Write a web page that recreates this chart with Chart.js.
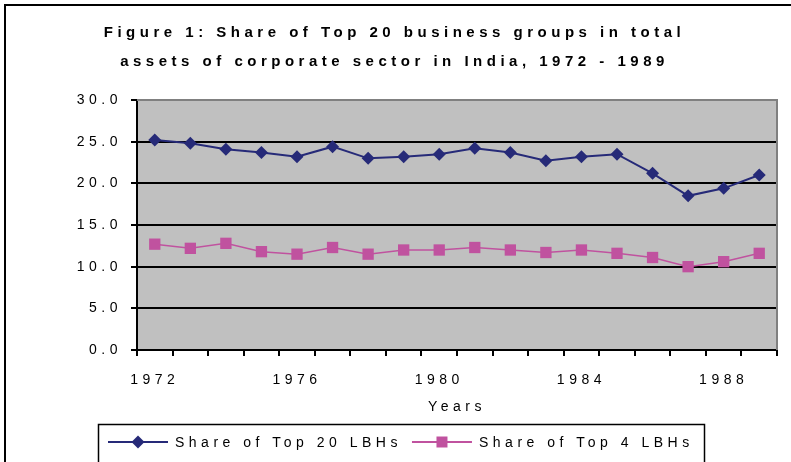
<!DOCTYPE html>
<html lang="en">
<head>
  <meta charset="UTF-8" />
  <title>Share of Top 20 business groups</title>
  <script src="https://cdn.jsdelivr.net/npm/chart.js"></script>
  <style>
    body {
      margin: 0;
      padding: 0;
      background: #fff;
    }
    #wrap {
      width: 791px;
      height: 462px;
    }
  </style>
</head>
<body>
  <div id="wrap">
    <canvas id="grafico" width="791" height="462"></canvas>
  </div>

  <script>
    // datos
    const years = ['1972', '1973', '1974', '1975', '1976', '1977', '1978', '1979', '1980',
                   '1981', '1982', '1983', '1984', '1985', '1986', '1987', '1988', '1989'];
    const top20 = [25.2, 24.8, 24.1, 23.7, 23.2, 24.4, 23.0, 23.2, 23.5,
                   24.2, 23.7, 22.7, 23.2, 23.5, 21.2, 18.5, 19.4, 21.0];
    const top4 = [12.7, 12.2, 12.8, 11.8, 11.5, 12.3, 11.5, 12.0, 12.0,
                  12.3, 12.0, 11.7, 12.0, 11.6, 11.1, 10.0, 10.6, 11.6];
    const seriesNames = ['Share of Top 20 LBHs', 'Share of Top 4 LBHs'];
    const titleLines = ['Figure 1: Share of Top 20 business groups in total',
                        'assets of corporate sector in India, 1972 - 1989'];
    const yTicks = [0, 5, 10, 15, 20, 25, 30];

    const navy = '#262a78';
    const magenta = '#c0529f';
    const fontFamily = "'Liberation Sans', Arial, sans-serif";
    const spacing = '4.5px';

    // espaciado de letras como en el original
    const spacingPlugin = {
      id: 'spacing',
      beforeUpdate(chart) { chart.ctx.letterSpacing = spacing; },
      beforeLayout(chart) { chart.ctx.letterSpacing = spacing; },
      afterLayout(chart) {
        // el titulo del original esta un poco corrido a la derecha
        if (chart.titleBlock) chart.titleBlock.left += 12;
      },
      beforeDraw(chart) { chart.ctx.letterSpacing = spacing; }
    };

    const plotBg = {
      id: 'plotBg',
      beforeDraw(chart) {
        const { ctx, chartArea: a } = chart;
        ctx.save();
        ctx.fillStyle = '#c0c0c0';
        ctx.fillRect(a.left, a.top, a.right - a.left, a.bottom - a.top);
        ctx.restore();
      },
      beforeDatasetsDraw(chart) {
        const { ctx, chartArea: a } = chart;
        ctx.save();
        ctx.strokeStyle = '#808080';
        ctx.lineWidth = 2;
        ctx.beginPath();
        ctx.moveTo(a.left, a.top);
        ctx.lineTo(a.right, a.top);
        ctx.lineTo(a.right, a.bottom);
        ctx.stroke();
        ctx.restore();
      },
      afterDraw(chart) {
        const ctx = chart.ctx;
        ctx.save();
        // marco exterior
        ctx.strokeStyle = '#000';
        ctx.lineWidth = 2;
        ctx.beginPath();
        ctx.moveTo(5, chart.height + 5);
        ctx.lineTo(5, 5);
        ctx.lineTo(chart.width + 5, 5);
        ctx.stroke();

        // leyenda
        ctx.lineWidth = 1.5;
        ctx.strokeRect(98.5, 424.5, 606, 60);
        ctx.font = '14px ' + fontFamily;
        ctx.letterSpacing = spacing;
        ctx.textBaseline = 'middle';
        ctx.fillStyle = '#000';
        let x = 108;
        const y = 442;
        chart.data.datasets.forEach(ds => {
          ctx.strokeStyle = ds.borderColor;
          ctx.lineWidth = 2;
          ctx.beginPath();
          ctx.moveTo(x, y);
          ctx.lineTo(x + 60, y);
          ctx.stroke();
          ctx.fillStyle = ds.backgroundColor;
          const cx = x + 30;
          ctx.beginPath();
          if (ds.pointStyle === 'rectRot') {
            ctx.moveTo(cx, y - 6.5);
            ctx.lineTo(cx + 6.5, y);
            ctx.lineTo(cx, y + 6.5);
            ctx.lineTo(cx - 6.5, y);
            ctx.closePath();
          } else {
            ctx.rect(cx - 5.5, y - 5.5, 11, 11);
          }
          ctx.fill();
          ctx.fillStyle = '#000';
          ctx.fillText(ds.label, x + 67, y + 1);
          x += 67 + ctx.measureText(ds.label).width + 10;
        });
        ctx.restore();
      }
    };

    const ctx = document.getElementById('grafico').getContext('2d');
    new Chart(ctx, {
      type: 'line',
      data: {
        labels: years,
        datasets: [
          {
            label: seriesNames[0],
            data: top20,
            borderColor: navy,
            backgroundColor: navy,
            borderWidth: 2,
            pointStyle: 'rectRot',
            pointRadius: 6.5,
            pointBorderWidth: 0,
            tension: 0
          },
          {
            label: seriesNames[1],
            data: top4,
            borderColor: magenta,
            backgroundColor: magenta,
            borderWidth: 1.5,
            pointStyle: 'rect',
            pointRadius: 8,
            pointBorderWidth: 0,
            tension: 0
          }
        ]
      },
      options: {
        responsive: false,
        animation: false,
        layout: {
          padding: { left: 0, right: 14, top: 0, bottom: 46 }
        },
        scales: {
          x: {
            offset: true,
            afterFit(scale) { scale.height = 66; },
            grid: {
              offset: true,
              drawOnChartArea: false,
              drawTicks: true,
              tickLength: 6,
              color: '#000',
              lineWidth: 2
            },
            border: { color: '#000', width: 2 },
            ticks: {
              autoSkip: false,
              maxRotation: 0,
              padding: 16,
              color: '#000',
              font: { family: fontFamily, size: 14 },
              callback: function (value, index) {
                return index % 4 === 0 ? years[index] : '';
              }
            },
            title: {
              display: true,
              text: 'Years',
              color: '#000',
              padding: { top: 4, bottom: 0 },
              font: { family: fontFamily, size: 14 }
            }
          },
          y: {
            min: 0,
            max: 30,
            afterFit(scale) { scale.width = 137; },
            afterBuildTicks(scale) {
              scale.ticks = yTicks.map(v => ({ value: v }));
            },
            grid: {
              color: ctx => (ctx.tick && ctx.tick.value === 30 ? '#808080' : '#000'),
              tickColor: '#000',
              lineWidth: 2,
              tickLength: 6
            },
            border: { color: '#000', width: 2 },
            ticks: {
              padding: 9,
              color: '#000',
              font: { family: fontFamily, size: 14 },
              callback: v => v.toFixed(1)
            }
          }
        },
        plugins: {
          legend: { display: false },
          tooltip: { enabled: false },
          title: {
            display: true,
            text: titleLines,
            color: '#000',
            font: { family: fontFamily, size: 15, weight: 'bold', lineHeight: 29 / 15 },
            padding: { top: 18.5, bottom: 23.5 }
          }
        }
      },
      plugins: [spacingPlugin, plotBg]
    });
  </script>
</body>
</html>
